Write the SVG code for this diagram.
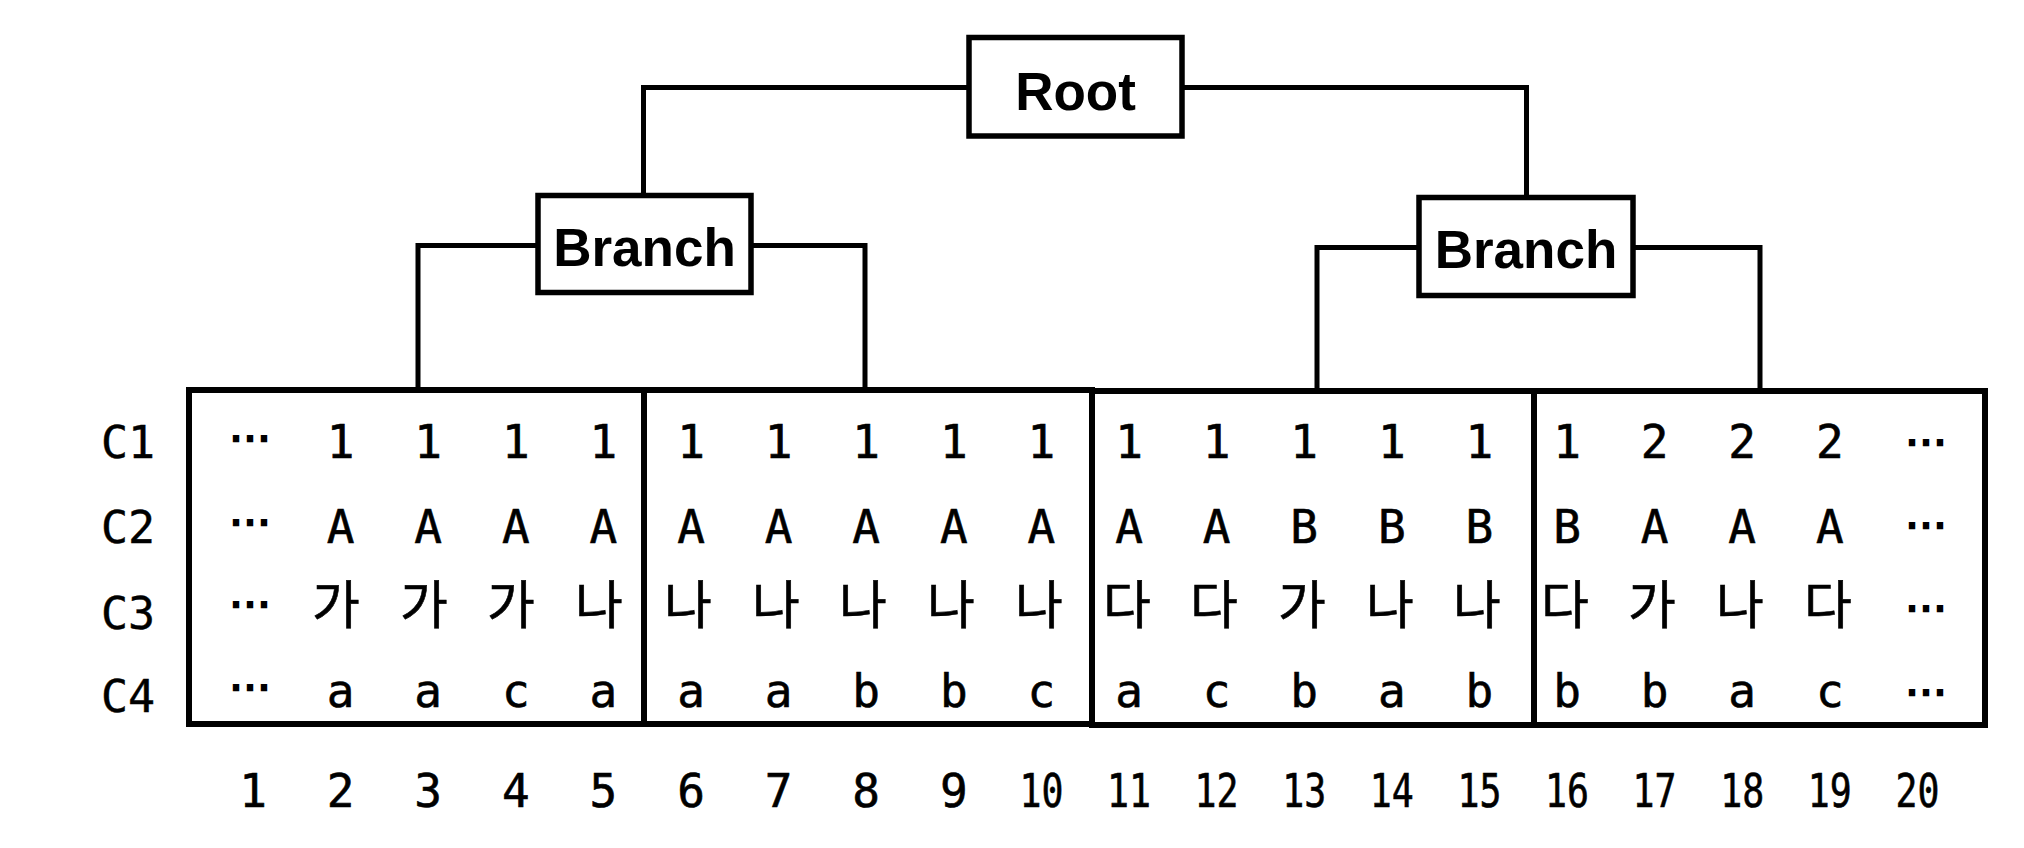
<svg xmlns="http://www.w3.org/2000/svg" width="2024" height="848" viewBox="0 0 2024 848">
<style>
.box{fill:#fff;stroke:#000;stroke-width:5.5}
.blk{fill:none;stroke:#000;stroke-width:6}
.conn{fill:none;stroke:#000;stroke-width:5}
.title{font-family:"Liberation Sans",Arial,sans-serif;font-weight:bold;font-size:53px;text-anchor:middle}
.v{font-family:"DejaVu Sans Mono",monospace;font-size:46px;text-anchor:middle;stroke:#000;stroke-width:0.6}
.k{font-family:"Noto Sans CJK KR",sans-serif;font-size:52px;text-anchor:middle;stroke:#000;stroke-width:0.6}
.d{font-family:"DejaVu Sans",sans-serif;font-size:42px;text-anchor:middle;stroke:#000;stroke-width:2}
.lbl{font-family:"DejaVu Sans Mono",monospace;font-size:45px;text-anchor:middle;stroke:#000;stroke-width:0.4}
</style>
<rect width="2024" height="848" fill="#fff"/>
<g id="connectors">
<path class="conn" d="M643.5 195.5 V87.5 H969"/>
<path class="conn" d="M1182 87.5 H1526.5 V197.5"/>
<path class="conn" d="M538 245.5 H418 V390"/>
<path class="conn" d="M751 245.5 H865 V390"/>
<path class="conn" d="M1419 247.5 H1317 V391"/>
<path class="conn" d="M1633 247.5 H1760 V391"/>
</g>
<g id="root">
<rect class="box" x="969" y="37.5" width="213" height="98.5"/>
<text class="title" x="1075.5" y="110">Root</text>
</g>
<g id="branch1">
<rect class="box" x="538" y="195.5" width="213" height="97"/>
<text class="title" x="644.5" y="266">Branch</text>
</g>
<g id="branch2">
<rect class="box" x="1419" y="197.5" width="214" height="98"/>
<text class="title" x="1526" y="268">Branch</text>
</g>
<g id="row-labels">
<text class="lbl" x="128" y="458">C1</text>
<text class="lbl" x="128" y="543">C2</text>
<text class="lbl" x="128" y="629">C3</text>
<text class="lbl" x="128" y="712">C4</text>
</g>
<g id="leaf1">
<rect class="blk" x="189" y="390" width="455" height="334"/>
<text class="d" x="250" y="452">⋯</text>
<text class="d" x="250" y="535.5">⋯</text>
<text class="d" x="250" y="617.5">⋯</text>
<text class="d" x="250" y="700.5">⋯</text>
<text class="v" x="340.6" y="458">1</text>
<text class="v" x="428.2" y="458">1</text>
<text class="v" x="515.8" y="458">1</text>
<text class="v" x="603.4" y="458">1</text>
<text class="v" x="340.6" y="543">A</text>
<text class="v" x="428.2" y="543">A</text>
<text class="v" x="515.8" y="543">A</text>
<text class="v" x="603.4" y="543">A</text>
<text class="k" x="336" y="624">가</text>
<text class="k" x="424" y="624">가</text>
<text class="k" x="511" y="624">가</text>
<text class="k" x="599" y="624">나</text>
<text class="v" x="340.6" y="707">a</text>
<text class="v" x="428.2" y="707">a</text>
<text class="v" x="515.8" y="707">c</text>
<text class="v" x="603.4" y="707">a</text>
</g>
<g id="leaf2">
<rect class="blk" x="644" y="390" width="448" height="334"/>
<text class="v" x="691" y="458">1</text>
<text class="v" x="778.6" y="458">1</text>
<text class="v" x="866.2" y="458">1</text>
<text class="v" x="953.8" y="458">1</text>
<text class="v" x="1041.4" y="458">1</text>
<text class="v" x="691" y="543">A</text>
<text class="v" x="778.6" y="543">A</text>
<text class="v" x="866.2" y="543">A</text>
<text class="v" x="953.8" y="543">A</text>
<text class="v" x="1041.4" y="543">A</text>
<text class="k" x="688" y="624">나</text>
<text class="k" x="776" y="624">나</text>
<text class="k" x="863" y="624">나</text>
<text class="k" x="951" y="624">나</text>
<text class="k" x="1039" y="624">나</text>
<text class="v" x="691" y="707">a</text>
<text class="v" x="778.6" y="707">a</text>
<text class="v" x="866.2" y="707">b</text>
<text class="v" x="953.8" y="707">b</text>
<text class="v" x="1041.4" y="707">c</text>
</g>
<g id="leaf3">
<rect class="blk" x="1092" y="391" width="442" height="334"/>
<text class="v" x="1129" y="458">1</text>
<text class="v" x="1216.6" y="458">1</text>
<text class="v" x="1304.2" y="458">1</text>
<text class="v" x="1391.8" y="458">1</text>
<text class="v" x="1479.4" y="458">1</text>
<text class="v" x="1129" y="543">A</text>
<text class="v" x="1216.6" y="543">A</text>
<text class="v" x="1304.2" y="543">B</text>
<text class="v" x="1391.8" y="543">B</text>
<text class="v" x="1479.4" y="543">B</text>
<text class="k" x="1127" y="624">다</text>
<text class="k" x="1214" y="624">다</text>
<text class="k" x="1302" y="624">가</text>
<text class="k" x="1390" y="624">나</text>
<text class="k" x="1477" y="624">나</text>
<text class="v" x="1129" y="707">a</text>
<text class="v" x="1216.6" y="707">c</text>
<text class="v" x="1304.2" y="707">b</text>
<text class="v" x="1391.8" y="707">a</text>
<text class="v" x="1479.4" y="707">b</text>
</g>
<g id="leaf4">
<rect class="blk" x="1534" y="391" width="451" height="334"/>
<text class="v" x="1567" y="458">1</text>
<text class="v" x="1654.6" y="458">2</text>
<text class="v" x="1742.2" y="458">2</text>
<text class="v" x="1829.8" y="458">2</text>
<text class="v" x="1567" y="543">B</text>
<text class="v" x="1654.6" y="543">A</text>
<text class="v" x="1742.2" y="543">A</text>
<text class="v" x="1829.8" y="543">A</text>
<text class="k" x="1565" y="624">다</text>
<text class="k" x="1652" y="624">가</text>
<text class="k" x="1740" y="624">나</text>
<text class="k" x="1828" y="624">다</text>
<text class="v" x="1567" y="707">b</text>
<text class="v" x="1654.6" y="707">b</text>
<text class="v" x="1742.2" y="707">a</text>
<text class="v" x="1829.8" y="707">c</text>
<text class="d" x="1926" y="455.5">⋯</text>
<text class="d" x="1926" y="538.5">⋯</text>
<text class="d" x="1926" y="621.5">⋯</text>
<text class="d" x="1926" y="705.5">⋯</text>
</g>
<g id="index-numbers">
<text class="v" x="253" y="807">1</text>
<text class="v" x="340.6" y="807">2</text>
<text class="v" x="428.2" y="807">3</text>
<text class="v" x="515.8" y="807">4</text>
<text class="v" x="603.4" y="807">5</text>
<text class="v" x="691" y="807">6</text>
<text class="v" x="778.6" y="807">7</text>
<text class="v" x="866.2" y="807">8</text>
<text class="v" x="953.8" y="807">9</text>
<text class="v" x="1041.4" y="807" textLength="44" lengthAdjust="spacingAndGlyphs">10</text>
<text class="v" x="1129" y="807" textLength="44" lengthAdjust="spacingAndGlyphs">11</text>
<text class="v" x="1216.6" y="807" textLength="44" lengthAdjust="spacingAndGlyphs">12</text>
<text class="v" x="1304.2" y="807" textLength="44" lengthAdjust="spacingAndGlyphs">13</text>
<text class="v" x="1391.8" y="807" textLength="44" lengthAdjust="spacingAndGlyphs">14</text>
<text class="v" x="1479.4" y="807" textLength="44" lengthAdjust="spacingAndGlyphs">15</text>
<text class="v" x="1567" y="807" textLength="44" lengthAdjust="spacingAndGlyphs">16</text>
<text class="v" x="1654.6" y="807" textLength="44" lengthAdjust="spacingAndGlyphs">17</text>
<text class="v" x="1742.2" y="807" textLength="44" lengthAdjust="spacingAndGlyphs">18</text>
<text class="v" x="1829.8" y="807" textLength="44" lengthAdjust="spacingAndGlyphs">19</text>
<text class="v" x="1917.4" y="807" textLength="44" lengthAdjust="spacingAndGlyphs">20</text>
</g>
</svg>
